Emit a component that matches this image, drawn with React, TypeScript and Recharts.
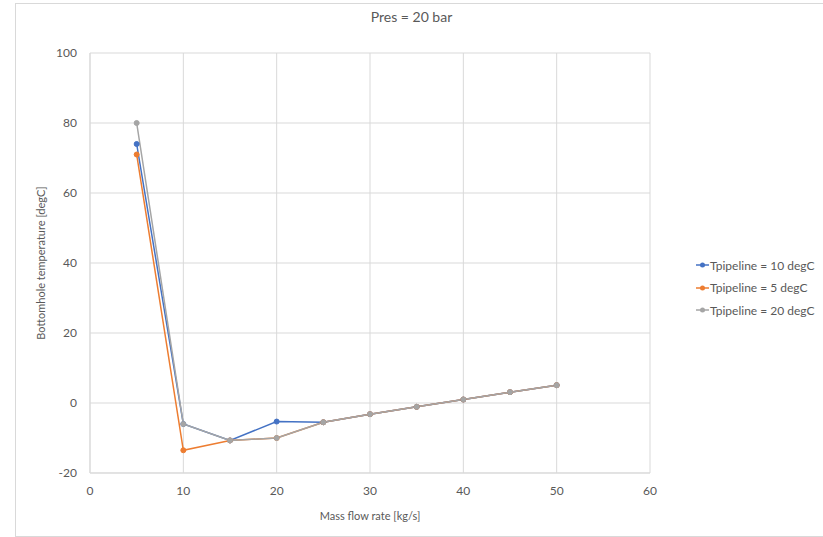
import React from 'react';
import { LineChart, Line, XAxis, YAxis, CartesianGrid, Legend } from 'recharts';

const massFlow = [5, 10, 15, 20, 25, 30, 35, 40, 45, 50];
const tPipe10 = [74, -6, -10.7, -5.3, -5.5, -3.2, -1.1, 1.0, 3.1, 5.1];
const tPipe5 = [71, -13.5, -10.7, -10, -5.5, -3.2, -1.1, 1.0, 3.1, 5.1];
const tPipe20 = [80, -6, -10.7, -10, -5.5, -3.2, -1.1, 1.0, 3.1, 5.1];
const xTicks = [0, 10, 20, 30, 40, 50, 60];
const yTicks = [-20, 0, 20, 40, 60, 80, 100];
const seriesNames = ['Tpipeline = 10 degC', 'Tpipeline = 5 degC', 'Tpipeline = 20 degC'];
const titleText = 'Pres = 20 bar';
const xLabelText = 'Mass flow rate [kg/s]';
const yLabelText = 'Bottomhole temperature [degC]';

const data = massFlow.map((m, i) => ({ m, a: tPipe10[i], b: tPipe5[i], c: tPipe20[i] }));

const FONT = 'Lato, "Open Sans", sans-serif';
const TEXT = '#595959';
const GRID = '#d9d9d9';

const renderLegend = (props: any) => {
  const payload = [...(props.payload || [])].sort(
    (p: any, q: any) => seriesNames.indexOf(p.value) - seriesNames.indexOf(q.value)
  );
  return (
    <div style={{ fontFamily: FONT }}>
      {payload.map((e: any, i: number) => (
        <div key={i} style={{ display: 'flex', alignItems: 'center', height: 22.5 }}>
          <svg width={13} height={8} style={{ display: 'block' }}>
            <line x1={0} y1={4} x2={13} y2={4} stroke={e.color} strokeWidth={1.5} />
            <circle cx={6.5} cy={4} r={2.5} fill={e.color} />
          </svg>
          <span style={{ marginLeft: 1, fontSize: 12, color: TEXT, whiteSpace: 'nowrap' }}>{e.value}</span>
        </div>
      ))}
    </div>
  );
};

const renderYLabel = (props: any) => {
  const vb = props.viewBox || { x: 0, y: 0, width: 90, height: 420 };
  const cx = vb.x + 40;
  const cy = vb.y + vb.height / 2;
  return (
    <text x={cx} y={cy} transform={`rotate(-90 ${cx} ${cy})`} textAnchor="middle" dominantBaseline="central"
      fill={TEXT} fontSize={11} fontFamily={FONT}>
      {yLabelText}
    </text>
  );
};

export default function App() {
  return (
    <div style={{ position: 'absolute', left: 0, top: 0, width: 823, height: 537, background: '#fff', overflow: 'hidden', fontFamily: FONT }}>
      <div style={{ position: 'absolute', left: 15, top: 3, width: 830, height: 532, border: `1px solid ${GRID}` }} />
      <div style={{ position: 'absolute', left: 15, top: 8, width: 793, textAlign: 'center', fontSize: 14, lineHeight: '18px', color: TEXT }}>
        {titleText}
      </div>
      <div style={{ position: 'absolute', left: 0, top: 0 }}>
        <LineChart width={823} height={537} data={data} margin={{ top: 53, right: 173, bottom: 24, left: 0 }}>
          <CartesianGrid stroke={GRID} vertical horizontal />
          <XAxis
            dataKey="m"
            type="number"
            domain={[0, 60]}
            ticks={xTicks}
            height={40}
            axisLine={{ stroke: GRID }}
            tickLine={false}
            tickSize={6}
            tickMargin={7}
            tick={{ fill: TEXT, fontSize: 12, fontFamily: FONT }}
            label={{ value: xLabelText, position: 'insideBottom', offset: -7, fill: TEXT, fontSize: 11, fontFamily: FONT }}
          />
          <YAxis
            type="number"
            domain={[-20, 100]}
            ticks={yTicks}
            width={90}
            axisLine={{ stroke: GRID }}
            tickLine={false}
            tickSize={6}
            tickMargin={7}
            tick={{ fill: TEXT, fontSize: 12, fontFamily: FONT }}
            label={{ content: renderYLabel }}
          />
          <Legend
            layout="vertical"
            align="center"
            verticalAlign="middle"
            content={renderLegend}
            wrapperStyle={{ left: 696, top: 254, width: 140 }}
          />
          <Line dataKey="a" name={seriesNames[0]} stroke="#4472C4" strokeWidth={1.5}
            dot={{ r: 2.5, fill: '#4472C4', stroke: '#4472C4', strokeWidth: 1 }} activeDot={false} isAnimationActive={false} />
          <Line dataKey="b" name={seriesNames[1]} stroke="#ED7D31" strokeWidth={1.5}
            dot={{ r: 2.5, fill: '#ED7D31', stroke: '#ED7D31', strokeWidth: 1 }} activeDot={false} isAnimationActive={false} />
          <Line dataKey="c" name={seriesNames[2]} stroke="#A5A5A5" strokeWidth={1.5}
            dot={{ r: 2.5, fill: '#A5A5A5', stroke: '#A5A5A5', strokeWidth: 1 }} activeDot={false} isAnimationActive={false} />
        </LineChart>
      </div>
    </div>
  );
}
